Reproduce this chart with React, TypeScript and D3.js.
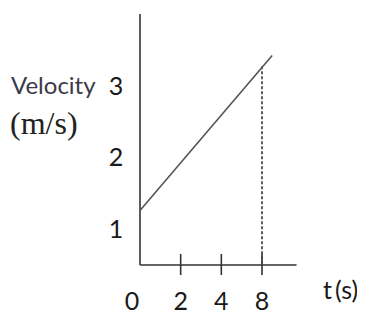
import React, { useEffect, useRef } from 'react';
import * as d3 from 'd3';

// tick labels on the time axis (drawn evenly spaced, as in the sketch)
const timeTicks = ['0', '2', '4', '8'];
const velocityTicks = [1, 2, 3];

// the straight velocity line, in tick positions (0..3) and m/s
const linePos = [0, 3.25];
const lineVel = [1.26, 3.42];

// dashed drop line at t = 8
const dropTick = '8';
const dropVel = 3.27;

function VelocityChart({ width, height }: { width: number; height: number }) {
  const svgRef = useRef<SVGSVGElement>(null);

  useEffect(() => {
    const svg = d3.select(svgRef.current)
      .attr('width', width)
      .attr('height', height)
      .style('display', 'block');
    svg.selectAll('*').remove();

    const originX = 140;
    const originY = 265;

    const xScale = d3.scaleLinear()
      .domain([0, timeTicks.length - 1])
      .range([originX, 262]);
    const yScale = d3.scaleLinear()
      .domain([0.5, 4])
      .range([originY, 14]);

    const sans = 'Lato, "Open Sans", sans-serif';

    // axes
    svg.append('line')
      .attr('x1', originX).attr('x2', originX)
      .attr('y1', yScale(4)).attr('y2', originY)
      .attr('stroke', '#333').attr('stroke-width', 1.6);
    svg.append('line')
      .attr('x1', originX).attr('x2', xScale(3.85))
      .attr('y1', originY).attr('y2', originY)
      .attr('stroke', '#333').attr('stroke-width', 1.6);

    // x ticks (skip 0, which sits on the corner)
    svg.selectAll('.tick')
      .data(timeTicks.slice(1))
      .join('line')
      .attr('class', 'tick')
      .attr('x1', d => xScale(timeTicks.indexOf(d)))
      .attr('x2', d => xScale(timeTicks.indexOf(d)))
      .attr('y1', originY - 11)
      .attr('y2', originY + 10)
      .attr('stroke', '#333')
      .attr('stroke-width', 1.6);

    svg.selectAll('.xlabel')
      .data(timeTicks)
      .join('text')
      .attr('class', 'xlabel')
      .attr('x', (d, i) => (i === 0 ? xScale(i) - 8 : xScale(i)))
      .attr('y', 310)
      .attr('text-anchor', 'middle')
      .attr('font-family', sans)
      .attr('font-size', 25)
      .attr('fill', '#1a1a1a')
      .text(d => d);

    svg.selectAll('.ylabel')
      .data(velocityTicks)
      .join('text')
      .attr('class', 'ylabel')
      .attr('x', 116)
      .attr('y', d => yScale(d) + 9)
      .attr('text-anchor', 'middle')
      .attr('font-family', sans)
      .attr('font-size', 25)
      .attr('fill', '#1a1a1a')
      .text(d => d);

    // dashed drop line
    const dx = xScale(timeTicks.indexOf(dropTick));
    svg.append('line')
      .attr('x1', dx).attr('x2', dx)
      .attr('y1', yScale(dropVel)).attr('y2', originY)
      .attr('stroke', '#444')
      .attr('stroke-width', 1.7)
      .attr('stroke-dasharray', '3,2');

    // velocity line
    const line = d3.line<number>()
      .x(d => xScale(d))
      .y((d, i) => yScale(lineVel[i]));
    svg.append('path')
      .attr('d', line(linePos))
      .attr('fill', 'none')
      .attr('stroke', '#555')
      .attr('stroke-width', 1.6);

    // axis titles
    svg.append('text')
      .attr('x', 11).attr('y', 94)
      .attr('font-family', sans)
      .attr('font-size', 24)
      .attr('fill', '#3a3a4a')
      .text('Velocity');
    svg.append('text')
      .attr('x', 10).attr('y', 134)
      .attr('font-family', '"Liberation Serif", "Times New Roman", serif')
      .attr('font-size', 32)
      .attr('fill', '#222')
      .text('(m/s)');
    svg.append('text')
      .attr('x', 323).attr('y', 299)
      .attr('font-family', sans)
      .attr('font-size', 25)
      .attr('fill', '#1a1a1a')
      .text('t\u2009(s)');
  }, [width, height]);

  return <svg ref={svgRef} />;
}

export default function App() {
  return (
    <div style={{ margin: -8 }}>
      <VelocityChart width={365} height={325} />
    </div>
  );
}
